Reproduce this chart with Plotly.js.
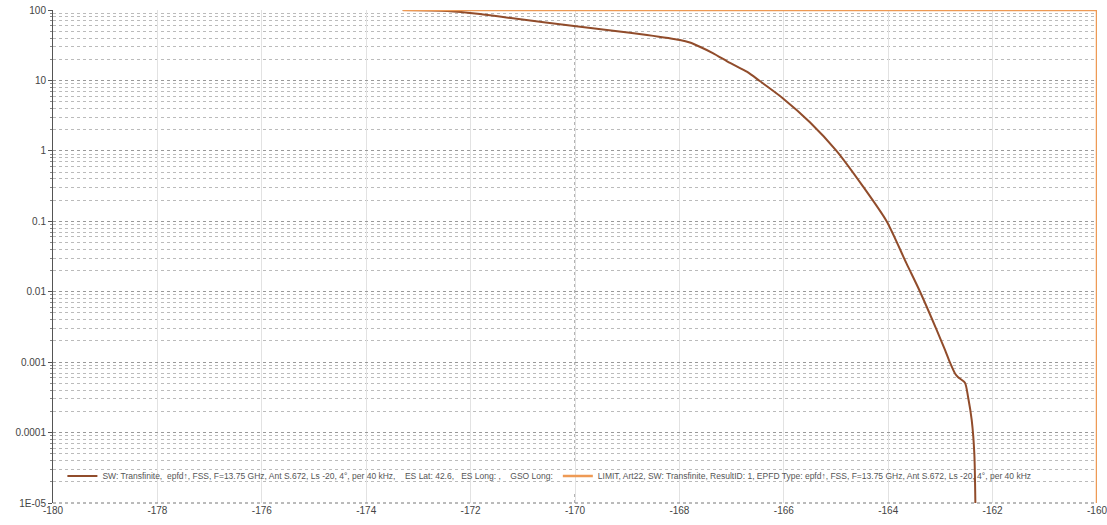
<!DOCTYPE html>
<html>
<head>
<meta charset="utf-8">
<script src="https://cdn.plot.ly/plotly-3.0.1.min.js"></script>
<style>html,body{margin:0;padding:0;background:#fff;}#chart{width:1107px;height:525px;}</style>
</head>
<body>
<div id="chart"></div>
<script>
// EPFD values (dB(W/m2/40kHz)) and percentage of time exceeded
const epfdX = [-173.30, -172.45, -171.82, -171.19, -170.02, -169.27, -168.62, -167.99, -167.80, -167.61,
  -167.36, -167.03, -166.70, -166.46, -166.02, -165.50, -164.99, -164.48, -164.03,
  -163.65, -163.39, -163.07, -162.91, -162.82, -162.72, -162.66, -162.53, -162.47, -162.40,
  -162.35, -162.33];
const epfdY = [100, 96.8, 87.7, 76.3, 59.3, 50.8, 44.2, 37.5, 34.5, 30.1,
  24.5, 17.7, 13.2, 9.8, 5.6, 2.55, 1.0, 0.31, 0.1,
  0.0252, 0.01, 0.00285, 0.00148, 0.001, 0.00069, 0.00061, 0.00051, 0.00032, 0.00015,
  0.00005, 0.00001];
const limitX = [-173.30, -160, -160];
const limitY = [100, 100, 0.00001];

const seriesNames = [
  "SW: Transfinite,  epfd\u2191, FSS, F=13.75 GHz, Ant S.672, Ls -20, 4\u00b0, per 40 kHz,    ES Lat: 42.6,   ES Long: ,    GSO Long:",
  "LIMIT, Art22, SW: Transfinite, ResultID: 1, EPFD Type: epfd\u2191, FSS, F=13.75 GHz, Ant S.672, Ls -20, 4\u00b0, per 40 kHz"
];
const xTicks = [-180, -178, -176, -174, -172, -170, -168, -166, -164, -162, -160];
const yTickVals = [100, 10, 1, 0.1, 0.01, 0.001, 0.0001, 0.00001];
const yTickText = ["100", "10", "1", "0.1", "0.01", "0.001", "0.0001", "1E-05"];
const darkGridX = -170;

const traces = [
  {x: epfdX, y: epfdY, name: seriesNames[0], mode: 'lines', type: 'scatter',
   line: {color: '#914C2B', width: 2, shape: 'spline', smoothing: 0.7}},
  {x: limitX, y: limitY, name: seriesNames[1], mode: 'lines', type: 'scatter',
   line: {color: '#EE9A55', width: 2.5}, cliponaxis: false}
];

const layout = {
  width: 1107, height: 525,
  margin: {l: 53, r: 10, t: 10, b: 22},
  paper_bgcolor: '#fff', plot_bgcolor: '#fff',
  font: {family: 'Liberation Sans, Arial, sans-serif', color: '#444', size: 10},
  showlegend: true,
  legend: {orientation: 'h', x: 0.009, y: 0.055, xanchor: 'left', yanchor: 'middle',
    bgcolor: 'rgba(0,0,0,0)', font: {size: 8.5, color: '#555'}, itemwidth: 30, tracegroupgap: 0},
  xaxis: {range: [-180, -160], tickvals: xTicks, ticktext: xTicks.map(String),
    showgrid: true, gridcolor: '#e2e2e2', gridwidth: 1, zeroline: false,
    showline: false, ticks: '', tickfont: {size: 10, color: '#444'}, ticklabeloverflow: 'allow'},
  yaxis: {type: 'log', range: [-5, 2], tickvals: yTickVals, ticktext: yTickText,
    showgrid: true, gridcolor: '#999', griddash: 'dot', gridwidth: 1,
    minor: {showgrid: true, gridcolor: '#bbb', griddash: 'dot', gridwidth: 1, dtick: 'D1',
      ticks: 'outside', ticklen: 2, tickcolor: '#888'},
    zeroline: false, showline: true, linecolor: '#555', linewidth: 1,
    ticks: 'outside', ticklen: 4, tickcolor: '#555', tickfont: {size: 10, color: '#444'}},
  shapes: [
    {type: 'line', xref: 'x', yref: 'paper', x0: darkGridX, x1: darkGridX, y0: 0, y1: 1,
     line: {color: '#666', width: 1, dash: 'dot'}, layer: 'between'},
    {type: 'rect', xref: 'paper', yref: 'paper', x0: 0.026, x1: 0.955, y0: 0.022, y1: 0.081,
     fillcolor: '#fff', line: {width: 0}, layer: 'between'},
    {type: 'line', xref: 'paper', yref: 'paper', x0: 0, x1: 1, y0: 0, y1: 0,
     line: {color: '#777', width: 1, dash: 'dot'}, layer: 'above'}
  ]
};

Plotly.newPlot('chart', traces, layout, {displayModeBar: false, staticPlot: true});
</script>
</body>
</html>
